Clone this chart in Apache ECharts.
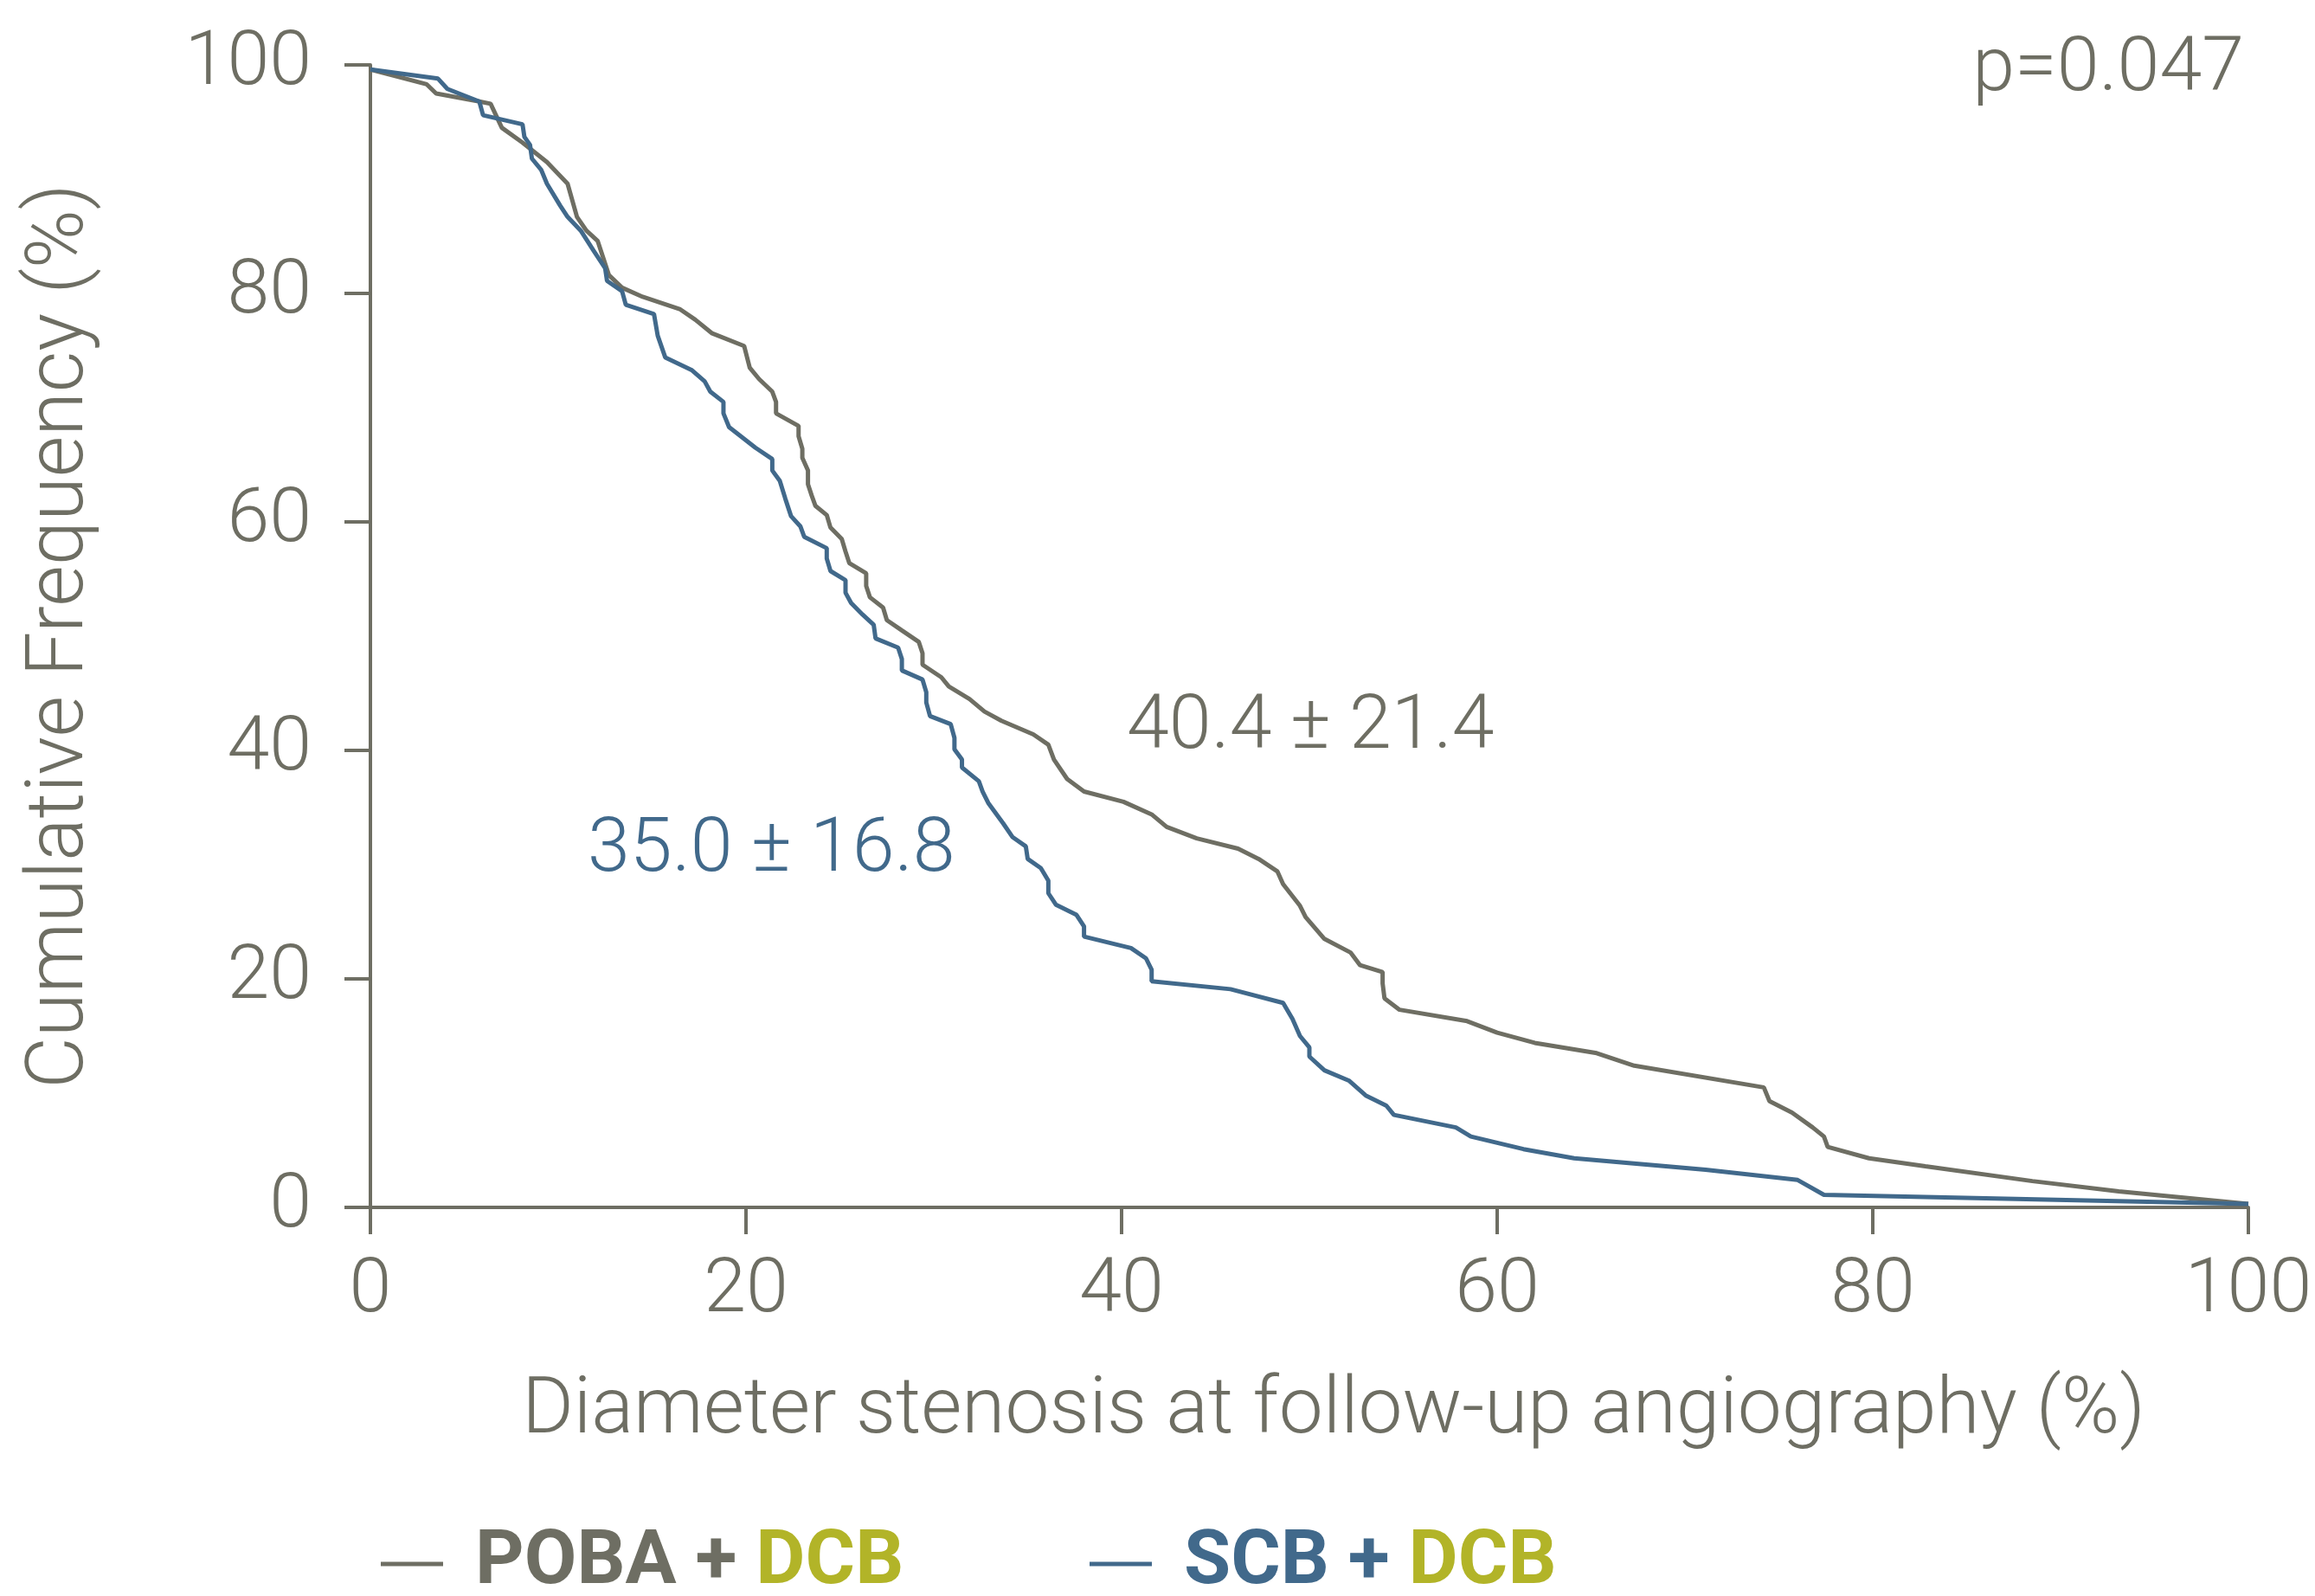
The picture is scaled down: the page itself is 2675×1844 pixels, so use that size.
<!DOCTYPE html>
<html>
<head>
<meta charset="utf-8">
<script src="https://cdn.jsdelivr.net/npm/echarts@6/dist/echarts.min.js"></script>
<style>
  html, body { margin: 0; padding: 0; background: #fff; }
  #chart { width: 2675px; height: 1844px; }
</style>
</head>
<body>
<div id="chart"></div>
<script>
// cumulative frequency curves, [diameter stenosis %, cumulative %]
var pobaPoints = [
    [0, 99.6], [3.0, 98.3], [3.5, 97.5], [5.8, 96.8], [6.4, 96.6], [7.0, 94.5], [8.1, 93.2],
    [9.4, 91.5], [10.5, 89.6], [11.0, 86.7], [11.5, 85.5], [12.1, 84.6], [12.7, 81.6],
    [13.4, 80.5], [14.5, 79.7], [16.5, 78.6], [17.3, 77.7], [18.2, 76.5], [19.9, 75.4],
    [20.2, 73.5], [20.7, 72.5], [21.4, 71.4], [21.6, 70.5], [21.6, 69.5], [22.8, 68.4],
    [22.8, 67.5], [23.0, 66.4], [23.0, 65.6], [23.3, 64.5], [23.3, 63.3], [23.5, 62.3],
    [23.7, 61.4], [24.3, 60.6], [24.5, 59.5], [25.1, 58.5], [25.3, 57.4], [25.5, 56.4],
    [26.4, 55.5], [26.4, 54.4], [26.6, 53.4], [27.3, 52.5], [27.5, 51.4], [28.3, 50.5],
    [29.2, 49.5], [29.4, 48.5], [29.4, 47.5], [30.4, 46.4], [30.8, 45.6], [31.9, 44.5],
    [32.7, 43.4], [33.6, 42.6], [35.3, 41.4], [36.1, 40.5], [36.4, 39.2], [37.1, 37.5],
    [38.0, 36.4], [40.1, 35.5], [41.6, 34.4], [42.4, 33.3], [44.0, 32.3], [46.2, 31.4],
    [47.3, 30.5], [48.3, 29.4], [48.6, 28.3], [49.5, 26.4], [49.8, 25.4], [50.8, 23.5],
    [52.2, 22.3], [52.7, 21.2], [53.9, 20.6], [53.9, 19.6], [54.0, 18.3], [54.8, 17.3],
    [58.4, 16.3], [60.0, 15.3], [62.0, 14.4], [65.3, 13.5], [67.3, 12.4], [74.2, 10.5],
    [74.5, 9.3], [75.7, 8.3], [76.8, 7.0], [77.4, 6.2], [77.6, 5.3], [79.8, 4.3],
    [82.8, 3.6], [88.5, 2.3], [93.1, 1.4], [100, 0.3]
];
var scbPoints = [
    [0, 99.6], [3.6, 98.8], [4.1, 97.9], [5.8, 96.8], [6.0, 95.6], [8.1, 94.8], [8.2, 93.7],
    [8.5, 93.0], [8.6, 91.8], [9.1, 90.8], [9.4, 89.6], [10.1, 87.7], [10.5, 86.7],
    [11.2, 85.5], [11.9, 83.7], [12.5, 82.2], [12.6, 81.1], [13.4, 80.2], [13.6, 79.0],
    [15.1, 78.2], [15.3, 76.3], [15.7, 74.4], [17.1, 73.3], [17.8, 72.3], [18.1, 71.4],
    [18.8, 70.5], [18.8, 69.5], [19.1, 68.3], [20.5, 66.5], [21.4, 65.5], [21.4, 64.5],
    [21.8, 63.6], [22.1, 62.0], [22.4, 60.5], [22.9, 59.6], [23.1, 58.7], [24.3, 57.7],
    [24.3, 56.8], [24.5, 55.7], [25.3, 54.9], [25.3, 53.8], [25.6, 52.9], [26.2, 51.9],
    [26.8, 51.0], [26.9, 49.8], [28.1, 49.0], [28.3, 48.0], [28.3, 47.0], [29.4, 46.2],
    [29.6, 45.1], [29.6, 44.2], [29.8, 43.0], [30.9, 42.3], [31.1, 41.1], [31.1, 40.1],
    [31.5, 39.2], [31.5, 38.5], [32.4, 37.3], [32.6, 36.4], [32.9, 35.4], [33.7, 33.6],
    [34.2, 32.4], [34.9, 31.6], [35.0, 30.5], [35.7, 29.7], [36.1, 28.6], [36.1, 27.5],
    [36.5, 26.5], [37.6, 25.6], [38.0, 24.6], [38.0, 23.7], [40.5, 22.7], [41.3, 21.8],
    [41.6, 20.8], [41.6, 19.8], [45.8, 19.1], [48.6, 17.9], [49.1, 16.5], [49.5, 15.0],
    [50.0, 14.0], [50.0, 13.2], [50.8, 12.0], [52.1, 11.1], [53.0, 9.8], [54.1, 8.9],
    [54.5, 8.1], [57.8, 7.0], [58.6, 6.2], [61.4, 5.1], [64.1, 4.3], [71.1, 3.3],
    [76.0, 2.4], [77.4, 1.1], [100, 0.3]
];
var seriesNames = ['POBA + DCB', 'SCB + DCB'];
var meanLabels = ['40.4 ± 21.4', '35.0 ± 16.8'];
var pValueText = 'p=0.047';

var GRAY = '#6e6e63';
var BLUE = '#41698b';
var GREEN = '#b2b428';
var FONT = 'Roboto';

var myChart = echarts.init(document.getElementById('chart'));

// "POBA + " in the series colour, "DCB" in green
function legendFormat(name) {
    var parts = name.split(' + ');
    return '{a|' + parts[0] + ' + }{b|' + parts[1] + '}';
}

function legendItem(name, color, left) {
    return {
        data: [name],
        left: left,
        top: 1758,
        icon: 'rect',
        itemWidth: 72,
        itemHeight: 5,
        formatter: legendFormat,
        textStyle: {
            padding: [0, 0, 0, 32],
            rich: {
                a: {color: color, fontFamily: FONT, fontWeight: 'bold', fontSize: 88},
                b: {color: GREEN, fontFamily: FONT, fontWeight: 'bold', fontSize: 88}
            }
        }
    };
}

var option = {
    backgroundColor: '#fff',
    animation: false,
    grid: {left: 428, right: 77, top: 75, bottom: 449},
    legend: [
        legendItem(seriesNames[0], GRAY, 435),
        legendItem(seriesNames[1], BLUE, 1254)
    ],
    xAxis: {
        type: 'value',
        min: 0,
        max: 100,
        interval: 20,
        name: 'Diameter stenosis at follow-up angiography (%)',
        nameLocation: 'middle',
        nameGap: 192,
        nameTextStyle: {color: GRAY, fontFamily: FONT, fontWeight: 300, fontSize: 91, padding: [0, 0, 0, 56]},
        axisLine: {lineStyle: {color: GRAY, width: 4}},
        axisTick: {length: 31, lineStyle: {color: GRAY, width: 4}},
        axisLabel: {color: GRAY, fontFamily: FONT, fontWeight: 300, fontSize: 88, margin: 54},
        splitLine: {show: false}
    },
    yAxis: {
        type: 'value',
        min: 0,
        max: 100,
        interval: 20,
        name: 'Cumulative Frequency (%)',
        nameLocation: 'middle',
        nameGap: 310,
        nameTextStyle: {color: GRAY, fontFamily: FONT, fontWeight: 300, fontSize: 92},
        axisLine: {show: true, lineStyle: {color: GRAY, width: 4}},
        axisTick: {show: true, length: 30, lineStyle: {color: GRAY, width: 4}},
        axisLabel: {color: GRAY, fontFamily: FONT, fontWeight: 300, fontSize: 88, margin: 68},
        splitLine: {show: false}
    },
    graphic: [
        {
            type: 'text', left: 1302, top: 798,
            style: {text: meanLabels[0], fill: GRAY, font: '300 88px ' + FONT}
        },
        {
            type: 'text', left: 679, top: 940,
            style: {text: meanLabels[1], fill: BLUE, font: '300 88px ' + FONT}
        },
        {
            type: 'text', right: 82, top: 38,
            style: {text: pValueText, fill: GRAY, font: '300 88px ' + FONT}
        }
    ],
    series: [
        {
            name: seriesNames[0],
            type: 'line',
            data: pobaPoints,
            showSymbol: false,
            itemStyle: {color: GRAY},
            lineStyle: {color: GRAY, width: 5}
        },
        {
            name: seriesNames[1],
            type: 'line',
            data: scbPoints,
            showSymbol: false,
            itemStyle: {color: BLUE},
            lineStyle: {color: BLUE, width: 5}
        }
    ]
};

myChart.setOption(option);
</script>
</body>
</html>
